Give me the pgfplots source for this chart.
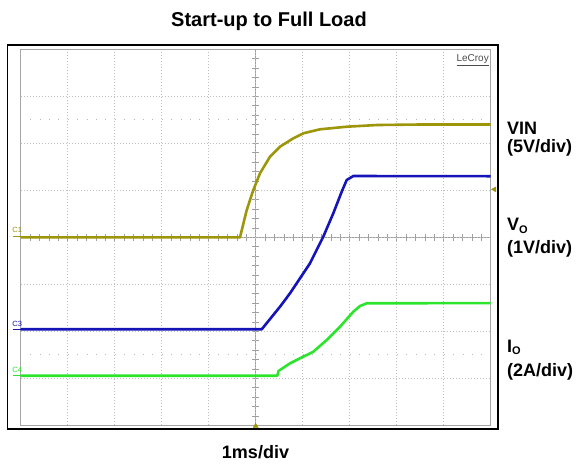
\documentclass[border=0pt]{standalone}
\usepackage{pgfplots}
\pgfplotsset{compat=1.18}
\usepackage{fontspec}
\setmainfont{Liberation Sans}
\definecolor{cvin}{RGB}{158,150,10}
\definecolor{cvo}{RGB}{20,20,185}
\definecolor{cio}{RGB}{45,228,45}
\begin{document}
\begin{tikzpicture}[x=1pt,y=1pt]
\path[use as bounding box] (0,0) rectangle (577,466);
% center graticule lines and minor ticks
\begin{scope}[shift={(20.7,40.7)}, x=47pt, y=47pt]
\draw[gray!75, line width=0.6pt] (5,0) -- (5,8);
\draw[gray!75, line width=0.6pt] (0,4) -- (10,4);
\foreach \i in {1,...,49} \draw[gray!75, line width=0.5pt] (\i*0.2,3.93) -- (\i*0.2,4.07);
\foreach \i in {1,...,39} \draw[gray!75, line width=0.5pt] (4.93,\i*0.2) -- (5.07,\i*0.2);
\draw[gray!55, line width=0.7pt, dash pattern=on 1pt off 8.4pt] (0.2,1.5) -- (10,1.5);
\draw[gray!55, line width=0.7pt, dash pattern=on 1pt off 8.4pt] (0.2,6.5) -- (10,6.5);
\end{scope}
\draw[line width=1.8pt] (7.5,36.7) rectangle (497.7,421);
\begin{axis}[at={(20.7pt,40.7pt)}, anchor=south west, scale only axis,
  width=470pt, height=376pt, xmin=0, xmax=10, ymin=-4, ymax=4,
  xtick={0,...,10}, ytick={-4,...,4}, xticklabels={}, yticklabels={},
  major tick length=0pt, grid=major,
  major grid style={gray!50, dash pattern=on 1.6pt off 1.4pt, line width=0.5pt},
  axis line style={gray!70, line width=0.6pt}, clip=false]
\addplot[cvin, line width=2.6pt, line join=round] coordinates {
(0,0) (4.666,0) (4.809,0.581) (4.949,1.006) (5.091,1.362) (5.304,1.715)
(5.517,1.928) (5.8,2.106) (6.013,2.213) (6.368,2.298) (6.936,2.353)
(7.574,2.389) (8.5,2.40) (10,2.40)};
\addplot[cvo, line width=2.6pt, line join=round] coordinates {
(0,-1.957) (5.128,-1.957) (5.374,-1.653) (5.517,-1.477) (5.73,-1.191)
(5.943,-0.872) (6.155,-0.553) (6.438,0.013) (6.651,0.511) (6.83,0.97)
(6.936,1.219) (7.077,1.304) (10,1.30)};
\addplot[cio, line width=2.6pt, line join=round] coordinates {
(0,-2.945) (5.46,-2.945) (5.485,-2.845) (5.73,-2.681) (5.943,-2.574)
(6.226,-2.434) (6.511,-2.185) (6.794,-1.902) (7.077,-1.583) (7.219,-1.462)
(7.362,-1.404) (10,-1.40)};
\addplot[cvin, only marks, mark=triangle*, mark size=3pt] coordinates {(5,-4.02)};
\addplot[cvin, only marks, mark=triangle*, mark size=3pt, mark options={rotate=90}] coordinates {(10.08,1.02)};
\end{axis}
% channel labels
\draw[cvin, line width=1pt] (12.7,229.5) -- (20.7,229.5);
\node[anchor=base west, inner sep=0pt, text=cvin, font=\fontsize{7.5}{8}\selectfont] at (12.2,233.3) {C1};
\draw[cvo, line width=1pt] (12.7,136.7) -- (20.7,136.7);
\node[anchor=base west, inner sep=0pt, text=cvo, font=\fontsize{7.5}{8}\selectfont] at (12.2,140) {C3};
\draw[cio, line width=1pt] (12.7,90.3) -- (20.7,90.3);
\node[anchor=base west, inner sep=0pt, text=cio, font=\fontsize{7.5}{8}\selectfont] at (12.2,93.3) {C4};
\node[anchor=base east, inner sep=0pt, text=black!70, font=\fontsize{10}{11}\selectfont] at (489,404) {\underline{LeCroy}};
% texts
\node[anchor=base, inner sep=0pt, font=\fontsize{20}{24}\selectfont\bfseries] at (269,439.5) {Start-up to Full Load};
\node[anchor=base west, inner sep=0pt, font=\fontsize{18}{20}\selectfont\bfseries] at (507,331.7) {VIN};
\node[anchor=base west, inner sep=0pt, font=\fontsize{18}{20}\selectfont\bfseries] at (507,313.3) {(5V/div)};
\node[anchor=base west, inner sep=0pt, font=\fontsize{18}{20}\selectfont\bfseries] at (507,235) {V\raisebox{-2pt}{\fontsize{11}{12}\selectfont O}};
\node[anchor=base west, inner sep=0pt, font=\fontsize{18}{20}\selectfont\bfseries] at (507,212) {(1V/div)};
\node[anchor=base west, inner sep=0pt, font=\fontsize{18}{20}\selectfont\bfseries] at (507,113.3) {I\raisebox{-2pt}{\fontsize{11}{12}\selectfont O}};
\node[anchor=base west, inner sep=0pt, font=\fontsize{18}{20}\selectfont\bfseries] at (507,89.3) {(2A/div)};
\node[anchor=base, inner sep=0pt, font=\fontsize{18}{20}\selectfont\bfseries] at (255.5,7.7) {1ms/div};
\end{tikzpicture}
\end{document}
